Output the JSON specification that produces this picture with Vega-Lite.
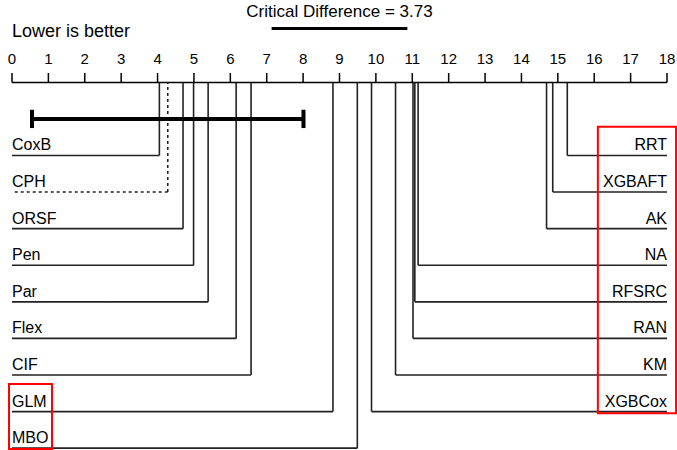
{
  "$schema": "https://vega.github.io/schema/vega-lite/v6.json",
  "width": 655,
  "height": 450,
  "autosize": {"type": "none"},
  "padding": {"left": 12, "right": 10, "top": 0, "bottom": 0},
  "background": "white",
  "config": {"view": {"stroke": null}, "font": "Liberation Sans", "text": {"font": "Liberation Sans", "color": "black"}},
  "datasets": {
    "methods": [
      {"name": "CoxB", "rank": 4.05, "side": "left", "row": 1},
      {"name": "CPH", "rank": 4.28, "side": "left", "row": 2},
      {"name": "ORSF", "rank": 4.70, "side": "left", "row": 3},
      {"name": "Pen", "rank": 4.99, "side": "left", "row": 4},
      {"name": "Par", "rank": 5.39, "side": "left", "row": 5},
      {"name": "Flex", "rank": 6.16, "side": "left", "row": 6},
      {"name": "CIF", "rank": 6.57, "side": "left", "row": 7},
      {"name": "GLM", "rank": 8.82, "side": "left", "row": 8},
      {"name": "MBO", "rank": 9.49, "side": "left", "row": 9},
      {"name": "RRT", "rank": 15.26, "side": "right", "row": 1},
      {"name": "XGBAFT", "rank": 14.86, "side": "right", "row": 2},
      {"name": "AK", "rank": 14.69, "side": "right", "row": 3},
      {"name": "NA", "rank": 11.16, "side": "right", "row": 4},
      {"name": "RFSRC", "rank": 11.07, "side": "right", "row": 5},
      {"name": "RAN", "rank": 11.02, "side": "right", "row": 6},
      {"name": "KM", "rank": 10.54, "side": "right", "row": 7},
      {"name": "XGBCox", "rank": 9.88, "side": "right", "row": 8}
    ],
    "ticks": [
      {"v": 0}, {"v": 1}, {"v": 2}, {"v": 3}, {"v": 4}, {"v": 5}, {"v": 6}, {"v": 7}, {"v": 8}, {"v": 9},
      {"v": 10}, {"v": 11}, {"v": 12}, {"v": 13}, {"v": 14}, {"v": 15}, {"v": 16}, {"v": 17}, {"v": 18}
    ],
    "range": [{"from": 0, "to": 18}],
    "cd": [{"start": 7.135, "end": 10.865, "center": 9, "label": "Critical Difference = 3.73"}],
    "clique": [{"start": 0.55, "end": 8.01}],
    "note": [{"label": "Lower is better"}]
  },
  "layer": [
    {
      "data": {"name": "range"},
      "mark": {"type": "rule", "strokeWidth": 1.5, "color": "black"},
      "encoding": {
        "x": {"field": "from", "type": "quantitative", "scale": {"domain": [0, 18], "nice": false, "zero": false}, "axis": null},
        "x2": {"field": "to"},
        "y": {"datum": -0.995, "type": "quantitative", "scale": {"domain": [-3.25, 9.05], "reverse": true, "nice": false, "zero": false}, "axis": null}
      }
    },
    {
      "data": {"name": "ticks"},
      "mark": {"type": "rule", "strokeWidth": 1.5, "color": "black"},
      "encoding": {
        "x": {"field": "v", "type": "quantitative", "scale": {"domain": [0, 18], "nice": false, "zero": false}, "axis": null},
        "y": {"datum": -1.255, "type": "quantitative", "scale": {"domain": [-3.25, 9.05], "reverse": true, "nice": false, "zero": false}, "axis": null},
        "y2": {"datum": -0.995}
      }
    },
    {
      "data": {"name": "ticks"},
      "mark": {"type": "text", "align": "center", "baseline": "alphabetic", "fontSize": 15, "color": "black"},
      "encoding": {
        "x": {"field": "v", "type": "quantitative", "scale": {"domain": [0, 18], "nice": false, "zero": false}, "axis": null},
        "y": {"datum": -1.501, "type": "quantitative", "scale": {"domain": [-3.25, 9.05], "reverse": true, "nice": false, "zero": false}, "axis": null},
        "text": {"field": "v", "type": "quantitative", "format": "d"}
      }
    },
    {
      "data": {"name": "methods"},
      "transform": [{"filter": "datum.side === 'left'"}],
      "mark": {"type": "rule", "strokeWidth": 1.6, "color": "#222"},
      "encoding": {
        "x": {"field": "rank", "type": "quantitative", "scale": {"domain": [0, 18], "nice": false, "zero": false}, "axis": null},
        "x2": {"datum": 0},
        "y": {"field": "row", "type": "quantitative", "scale": {"domain": [-3.25, 9.05], "reverse": true, "nice": false, "zero": false}, "axis": null},
        "strokeDash": {"condition": {"test": "datum.name === 'CPH'", "value": [3, 3]}, "value": [1, 0]}
      }
    },
    {
      "data": {"name": "methods"},
      "transform": [{"filter": "datum.side === 'right'"}],
      "mark": {"type": "rule", "strokeWidth": 1.6, "color": "#222"},
      "encoding": {
        "x": {"field": "rank", "type": "quantitative", "scale": {"domain": [0, 18], "nice": false, "zero": false}, "axis": null},
        "x2": {"datum": 18},
        "y": {"field": "row", "type": "quantitative", "scale": {"domain": [-3.25, 9.05], "reverse": true, "nice": false, "zero": false}, "axis": null}
      }
    },
    {
      "data": {"name": "methods"},
      "mark": {"type": "rule", "strokeWidth": 1.6, "color": "#222"},
      "encoding": {
        "x": {"field": "rank", "type": "quantitative", "scale": {"domain": [0, 18], "nice": false, "zero": false}, "axis": null},
        "y": {"field": "row", "type": "quantitative", "scale": {"domain": [-3.25, 9.05], "reverse": true, "nice": false, "zero": false}, "axis": null},
        "y2": {"datum": -0.995},
        "strokeDash": {"condition": {"test": "datum.name === 'CPH'", "value": [3, 3]}, "value": [1, 0]}
      }
    },
    {
      "data": {"name": "methods"},
      "transform": [{"filter": "datum.side === 'left'"}],
      "mark": {"type": "text", "align": "left", "baseline": "alphabetic", "dy": -5, "fontSize": 16, "color": "black"},
      "encoding": {
        "x": {"datum": 0, "type": "quantitative", "scale": {"domain": [0, 18], "nice": false, "zero": false}, "axis": null},
        "y": {"field": "row", "type": "quantitative", "scale": {"domain": [-3.25, 9.05], "reverse": true, "nice": false, "zero": false}, "axis": null},
        "text": {"field": "name"}
      }
    },
    {
      "data": {"name": "methods"},
      "transform": [{"filter": "datum.side === 'right'"}],
      "mark": {"type": "text", "align": "right", "baseline": "alphabetic", "dy": -5, "fontSize": 16, "color": "black"},
      "encoding": {
        "x": {"datum": 18, "type": "quantitative", "scale": {"domain": [0, 18], "nice": false, "zero": false}, "axis": null},
        "y": {"field": "row", "type": "quantitative", "scale": {"domain": [-3.25, 9.05], "reverse": true, "nice": false, "zero": false}, "axis": null},
        "text": {"field": "name"}
      }
    },
    {
      "data": {"name": "clique"},
      "mark": {"type": "rule", "strokeWidth": 4, "color": "black"},
      "encoding": {
        "x": {"field": "start", "type": "quantitative", "scale": {"domain": [0, 18], "nice": false, "zero": false}, "axis": null},
        "x2": {"field": "end"},
        "y": {"datum": 0, "type": "quantitative", "scale": {"domain": [-3.25, 9.05], "reverse": true, "nice": false, "zero": false}, "axis": null}
      }
    },
    {
      "data": {"name": "clique"},
      "mark": {"type": "rule", "strokeWidth": 4, "color": "black"},
      "encoding": {
        "x": {"field": "start", "type": "quantitative", "scale": {"domain": [0, 18], "nice": false, "zero": false}, "axis": null},
        "y": {"datum": -0.25, "type": "quantitative", "scale": {"domain": [-3.25, 9.05], "reverse": true, "nice": false, "zero": false}, "axis": null},
        "y2": {"datum": 0.25}
      }
    },
    {
      "data": {"name": "clique"},
      "mark": {"type": "rule", "strokeWidth": 4, "color": "black"},
      "encoding": {
        "x": {"field": "end", "type": "quantitative", "scale": {"domain": [0, 18], "nice": false, "zero": false}, "axis": null},
        "y": {"datum": -0.25, "type": "quantitative", "scale": {"domain": [-3.25, 9.05], "reverse": true, "nice": false, "zero": false}, "axis": null},
        "y2": {"datum": 0.25}
      }
    },
    {
      "data": {"name": "cd"},
      "mark": {"type": "rule", "strokeWidth": 3, "color": "black"},
      "encoding": {
        "x": {"field": "start", "type": "quantitative", "scale": {"domain": [0, 18], "nice": false, "zero": false}, "axis": null},
        "x2": {"field": "end"},
        "y": {"datum": -2.471, "type": "quantitative", "scale": {"domain": [-3.25, 9.05], "reverse": true, "nice": false, "zero": false}, "axis": null}
      }
    },
    {
      "data": {"name": "cd"},
      "mark": {"type": "text", "align": "center", "baseline": "alphabetic", "fontSize": 17, "color": "black"},
      "encoding": {
        "x": {"field": "center", "type": "quantitative", "scale": {"domain": [0, 18], "nice": false, "zero": false}, "axis": null},
        "y": {"datum": -2.785, "type": "quantitative", "scale": {"domain": [-3.25, 9.05], "reverse": true, "nice": false, "zero": false}, "axis": null},
        "text": {"field": "label"}
      }
    },
    {
      "data": {"name": "note"},
      "mark": {"type": "text", "align": "left", "baseline": "alphabetic", "fontSize": 18, "color": "black"},
      "encoding": {
        "x": {"datum": 0, "type": "quantitative", "scale": {"domain": [0, 18], "nice": false, "zero": false}, "axis": null},
        "y": {"datum": -2.24, "type": "quantitative", "scale": {"domain": [-3.25, 9.05], "reverse": true, "nice": false, "zero": false}, "axis": null},
        "text": {"field": "label"}
      }
    },
    {
      "data": {"name": "note"},
      "mark": {"type": "rect", "fill": "transparent", "stroke": "red", "strokeWidth": 2},
      "encoding": {
        "x": {"datum": -0.082, "type": "quantitative", "scale": {"domain": [0, 18], "nice": false, "zero": false}, "axis": null},
        "x2": {"datum": 1.099},
        "y": {"datum": 7.246, "type": "quantitative", "scale": {"domain": [-3.25, 9.05], "reverse": true, "nice": false, "zero": false}, "axis": null},
        "y2": {"datum": 9.02}
      }
    },
    {
      "data": {"name": "note"},
      "mark": {"type": "rect", "fill": "transparent", "stroke": "red", "strokeWidth": 2},
      "encoding": {
        "x": {"datum": 16.10, "type": "quantitative", "scale": {"domain": [0, 18], "nice": false, "zero": false}, "axis": null},
        "x2": {"datum": 18.25},
        "y": {"datum": 0.213, "type": "quantitative", "scale": {"domain": [-3.25, 9.05], "reverse": true, "nice": false, "zero": false}, "axis": null},
        "y2": {"datum": 8.047}
      }
    }
  ]
}
